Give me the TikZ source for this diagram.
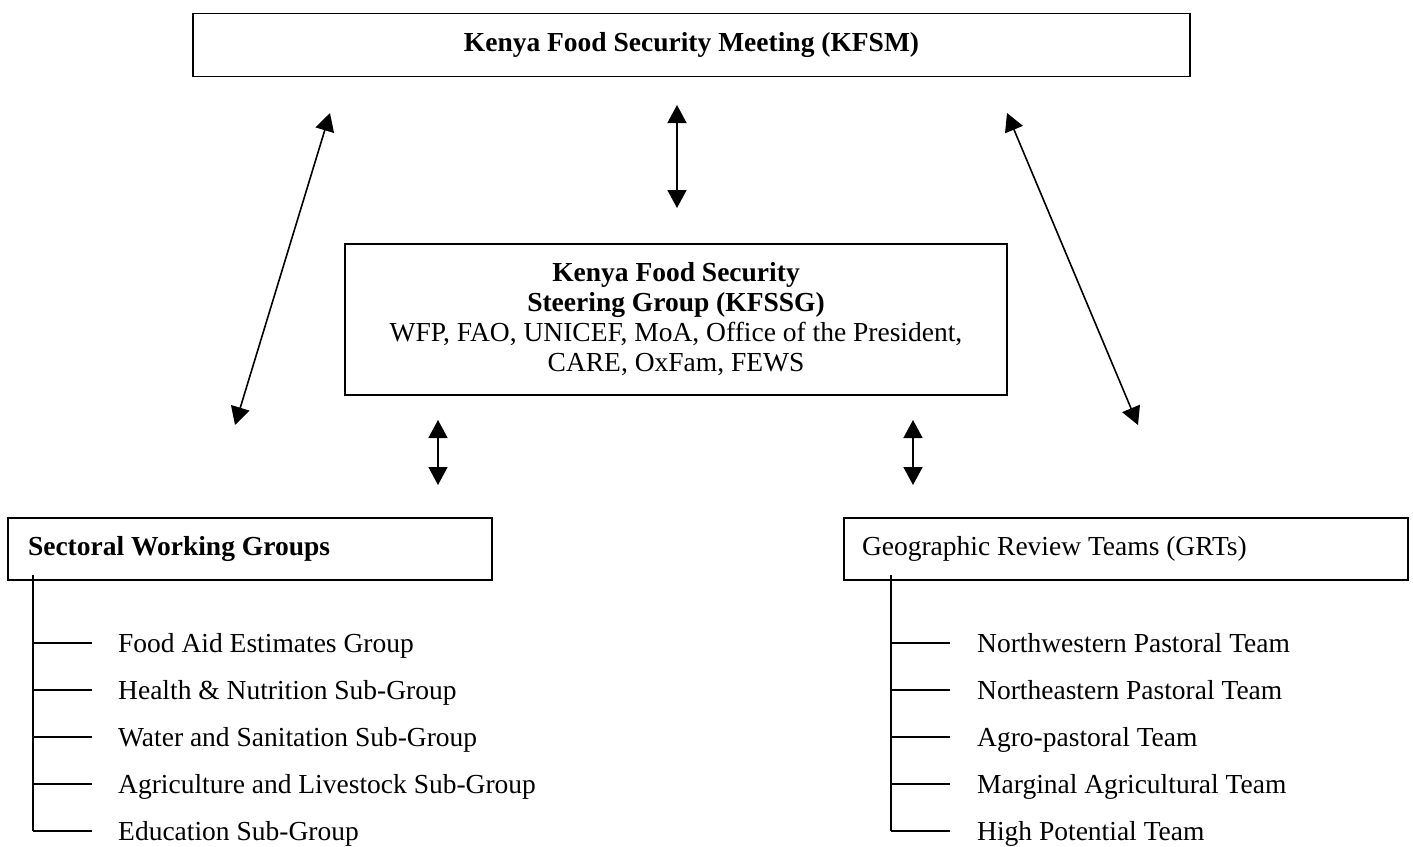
\documentclass[tikz,border=0pt]{standalone}
\usepackage{fontspec}
\setmainfont{Liberation Serif}
\usetikzlibrary{arrows.meta}
\tikzstyle{kbox} = [draw=black, line width=1.6pt, rectangle, inner sep=0pt, align=center]
\tikzstyle{grpbox} = [draw=black, line width=1.6pt, rectangle, inner xsep=20pt,
    minimum height=62pt, align=flush left]
\tikzstyle{linkarrow} = [line width=1.6pt,
    {Triangle[length=18pt,width=19pt]}-{Triangle[length=18pt,width=19pt]}]
\tikzstyle{itemtext} = [inner sep=0pt, anchor=west, text height=24.2pt, text depth=6pt]
\tikzstyle{branchline} = [line width=1.6pt]

\begin{document}
\begin{tikzpicture}[x=1pt, y=-1pt, font=\fontsize{27.5}{30}\selectfont]
\useasboundingbox (0,0) rectangle (1413,846);
\node[kbox, minimum width=997pt, minimum height=63pt] (kfsm) at (691.5,45)
    {\textbf{Kenya Food Security Meeting (KFSM)}};
\node[kbox, minimum width=662pt, minimum height=151pt] (kfssg) at (676,319.5)
    {\textbf{Kenya Food Security}\\ \textbf{Steering Group (KFSSG)}\\
     WFP, FAO, UNICEF, MoA, Office of the President,\\ CARE, OxFam, FEWS};
\node[grpbox, text width=444pt] (swg) at (250,549) {\textbf{Sectoral Working Groups}};
\node[grpbox, inner xsep=18pt, text width=528pt] (grt) at (1126,549) {Geographic Review Teams (GRTs)};

\coordinate (l1) at (330,113); \coordinate (l2) at (235,425);
\coordinate (m1) at (677,105); \coordinate (m2) at (677,208);
\coordinate (r1) at (1007,113); \coordinate (r2) at (1138,425);
\coordinate (s1) at (438,420); \coordinate (s2) at (438,485);
\coordinate (g1) at (913,420); \coordinate (g2) at (913,485);
\draw[linkarrow] (l1) -- (l2);
\draw[linkarrow] (m1) -- (m2);
\draw[linkarrow] (r1) -- (r2);
\draw[linkarrow] (s1) -- (s2);
\draw[linkarrow] (g1) -- (g2);

\coordinate (swtrunk) at (33,575);
\foreach \t [count=\i] in {Food Aid Estimates Group, Health \& Nutrition Sub-Group,
    Water and Sanitation Sub-Group, Agriculture and Livestock Sub-Group, Education Sub-Group} {
  \node[itemtext] (sw\i) at (118,596+47*\i) {\t};
  \draw[branchline] (swtrunk |- sw\i.west) -- ++(59,0);
}
\draw[branchline] (swtrunk) -- (swtrunk |- sw5.west);

\coordinate (grtrunk) at (891,575);
\foreach \t [count=\i] in {Northwestern Pastoral Team, Northeastern Pastoral Team,
    Agro-pastoral Team, Marginal Agricultural Team, High Potential Team} {
  \node[itemtext] (gr\i) at (977,596+47*\i) {\t};
  \draw[branchline] (grtrunk |- gr\i.west) -- ++(59,0);
}
\draw[branchline] (grtrunk) -- (grtrunk |- gr5.west);
\end{tikzpicture}
\end{document}
